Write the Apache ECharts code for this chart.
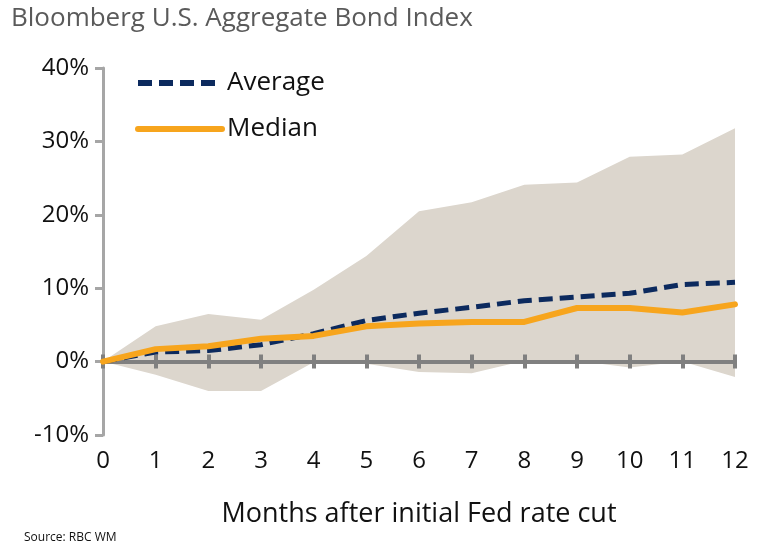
<!DOCTYPE html>
<html>
<head>
<meta charset="utf-8">
<script src="https://cdn.jsdelivr.net/npm/echarts@6/dist/echarts.min.js"></script>
<style>
html,body{margin:0;padding:0;background:#fff;}
#c{width:769px;height:553px;}
</style>
</head>
<body>
<div id="c"></div>
<script>
const months = ['0','1','2','3','4','5','6','7','8','9','10','11','12'];
const average = [0, 1.3, 1.5, 2.3, 3.8, 5.6, 6.6, 7.4, 8.3, 8.8, 9.3, 10.5, 10.8];
const median = [0, 1.7, 2.1, 3.1, 3.5, 4.8, 5.2, 5.4, 5.4, 7.3, 7.3, 6.7, 7.8];
const bandLow = [0, -1.8, -4.0, -4.0, -0.1, -0.3, -1.4, -1.6, 0.1, 0.1, -0.8, 0.0, -2.1];
const bandHigh = [0, 4.8, 6.5, 5.7, 9.8, 14.4, 20.5, 21.7, 24.1, 24.4, 27.9, 28.2, 31.8];
const yTicks = [-10, 0, 10, 20, 30, 40];
const yMin = -10, yMax = 40;

const bandDiff = bandHigh.map((v, i) => v - bandLow[i]);
const font = 'Open Sans';
const gridTop = 68, gridBottom = 118, H = 553;
const gridH = H - gridTop - gridBottom;
const zeroOffset = -gridH * (0 - yMin) / (yMax - yMin);

const chart = echarts.init(document.getElementById('c'));
chart.setOption({
  animation: false,
  title: {
    text: 'Bloomberg U.S. Aggregate Bond Index',
    left: 6, top: 1,
    textStyle: {fontFamily: font, fontSize: 26, fontWeight: 'normal', color: '#5a5a5a'}
  },
  legend: {
    orient: 'vertical',
    left: 130, top: 65,
    itemWidth: 84, itemHeight: 22, itemGap: 20,
    data: ['Average', 'Median'],
    itemStyle: {opacity: 0},
    lineStyle: {width: 6},
    textStyle: {fontFamily: font, fontSize: 26, color: '#111'}
  },
  graphic: [{
    type: 'text', left: 24, top: 532,
    style: {text: 'Source: RBC WM', font: '12px "Open Sans"', fill: '#111'}
  }],
  grid: {left: 103, right: 34, top: gridTop, bottom: gridBottom},
  xAxis: [{
    type: 'category', data: months, boundaryGap: false,
    position: 'bottom',
    axisLine: {show: false, onZero: false},
    axisTick: {show: false},
    axisLabel: {fontFamily: font, fontSize: 24, color: '#111', margin: 14},
    name: 'Months after initial Fed rate cut',
    nameLocation: 'middle', nameGap: 66,
    nameTextStyle: {fontFamily: font, fontSize: 27, color: '#111'}
  }, {
    type: 'category', data: months, boundaryGap: false,
    position: 'bottom', offset: zeroOffset, z: 5,
    axisLine: {show: true, onZero: false, lineStyle: {color: '#808080', width: 4}},
    axisTick: {show: true, length: 7, lineStyle: {color: '#808080', width: 4}},
    axisLabel: {show: false}
  }, {
    type: 'category', data: months, boundaryGap: false,
    position: 'bottom', offset: zeroOffset, z: 5,
    axisLine: {show: false, onZero: false},
    axisTick: {show: true, inside: true, length: 7, lineStyle: {color: '#808080', width: 4}},
    axisLabel: {show: false}
  }],
  yAxis: {
    type: 'value', min: yMin, max: yMax, interval: 10,
    splitLine: {show: false},
    axisLine: {show: true, lineStyle: {color: '#a6a6a6', width: 3}},
    axisTick: {show: true, length: 8, lineStyle: {color: '#a6a6a6', width: 3}},
    axisLabel: {
      fontFamily: font, fontSize: 24, color: '#111', margin: 14,
      formatter: v => yTicks.includes(v) ? v + '%' : ''
    }
  },
  series: [{
    name: 'low', type: 'line', data: bandLow, stack: 'band', stackStrategy: 'all',
    symbol: 'none', lineStyle: {opacity: 0}, silent: true, z: 1
  }, {
    name: 'range', type: 'line', data: bandDiff, stack: 'band', stackStrategy: 'all',
    symbol: 'none', lineStyle: {opacity: 0},
    areaStyle: {color: '#dcd6cd', opacity: 1}, silent: true, z: 1
  }, {
    name: 'Average', type: 'line', data: average, symbol: 'none',
    lineStyle: {color: '#0c2a5e', width: 5, type: [14, 7]},
    itemStyle: {color: '#0c2a5e'}, z: 6
  }, {
    name: 'Median', type: 'line', data: median, symbol: 'none',
    lineStyle: {color: '#f7a51d', width: 6, cap: 'round'},
    itemStyle: {color: '#f7a51d'}, z: 7
  }]
});
</script>
</body>
</html>
